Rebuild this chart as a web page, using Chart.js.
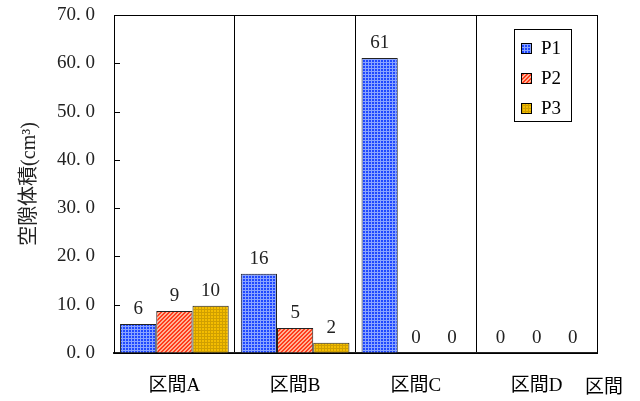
<!DOCTYPE html>
<html>
<head>
<meta charset="utf-8">
<script src="https://cdn.jsdelivr.net/npm/chart.js@4"></script>
<style>
html, body { margin: 0; background: #fff; }
#wrap { width: 640px; height: 401px; }
</style>
</head>
<body>
<div id="wrap"><canvas id="chart"></canvas></div>
<script>
// data
const categories = ['区間A', '区間B', '区間C', '区間D'];
const seriesNames = ['P1', 'P2', 'P3'];
const p1Values = [6.0, 16.4, 61.1, 0];
const p2Values = [8.7, 5.2, 0, 0];
const p3Values = [9.8, 2.1, 0, 0];
const yTicks = [0, 10, 20, 30, 40, 50, 60, 70];

const FONT = "'Liberation Serif', 'Noto Sans CJK JP', serif";

// small tiled fills like the hatched bars of the original
function makePattern(kind) {
    const c = document.createElement('canvas');
    const ctx = c.getContext('2d');
    if (kind === 'blue') {
        c.width = c.height = 3;
        ctx.fillStyle = '#8aa4ff';
        ctx.fillRect(0, 0, 3, 3);
        ctx.fillStyle = '#1f48ff';
        ctx.fillRect(0, 0, 2, 2);
    } else if (kind === 'red') {
        c.width = c.height = 4;
        for (let x = 0; x < 4; x++) {
            for (let y = 0; y < 4; y++) {
                ctx.fillStyle = (x + y) % 4 < 2 ? '#ff3c1c' : '#ffb495';
                ctx.fillRect(x, y, 1, 1);
            }
        }
    } else {
        c.width = c.height = 3;
        ctx.fillStyle = '#f4bd00';
        ctx.fillRect(0, 0, 3, 3);
        ctx.fillStyle = '#cf9f00';
        ctx.fillRect(0, 0, 3, 1);
        ctx.fillRect(0, 0, 1, 3);
    }
    return ctx.createPattern(c, 'repeat');
}

const fills = [makePattern('blue'), makePattern('red'), makePattern('yellow')];
const seriesValues = [p1Values, p2Values, p3Values];

const decorPlugin = {
    id: 'decor',
    afterDatasetsDraw(chart) {
        const ctx = chart.ctx;
        ctx.save();
        ctx.font = '19px ' + FONT;
        ctx.fillStyle = '#222';
        ctx.textAlign = 'center';
        ctx.textBaseline = 'middle';
        chart.data.datasets.forEach((ds, i) => {
            chart.getDatasetMeta(i).data.forEach((bar, j) => {
                ctx.fillText(String(Math.round(ds.data[j])), bar.x, bar.y - 15);
            });
        });
        ctx.restore();
    },
    afterDraw(chart) {
        const ctx = chart.ctx;
        const area = chart.chartArea;
        const y = chart.scales.y;
        ctx.save();
        // frame
        ctx.strokeStyle = '#000';
        ctx.lineWidth = 1;
        ctx.strokeRect(area.left + 0.5, area.top + 0.5, area.right - area.left, area.bottom - area.top);
        // inner tick marks on the value axis
        ctx.beginPath();
        yTicks.forEach(v => {
            const py = Math.round(y.getPixelForValue(v)) + 0.5;
            ctx.moveTo(area.left, py);
            ctx.lineTo(area.left + 6, py);
        });
        ctx.stroke();

        // legend box
        const lx = 514, ly = 29, lw = 57, lh = 92;
        ctx.fillStyle = '#fff';
        ctx.fillRect(lx, ly, lw, lh);
        ctx.strokeStyle = '#000';
        ctx.strokeRect(lx + 0.5, ly + 0.5, lw, lh);
        ctx.font = '19px ' + FONT;
        ctx.textBaseline = 'middle';
        ctx.textAlign = 'left';
        chart.data.datasets.forEach((ds, i) => {
            const cy = 48 + i * 30;
            ctx.fillStyle = ds.backgroundColor;
            ctx.fillRect(521, cy - 5, 11, 11);
            ctx.strokeStyle = '#000';
            ctx.strokeRect(521.5, cy - 4.5, 10, 10);
            ctx.fillStyle = '#000';
            ctx.fillText(ds.label, 541, cy + 1);
        });

        // category axis name, bottom right
        ctx.textAlign = 'center';
        ctx.fillText('区間', 604, 388);
        ctx.restore();
    }
};

new Chart(document.getElementById('chart'), {
    type: 'bar',
    data: {
        labels: categories,
        datasets: seriesNames.map((name, i) => ({
            label: name,
            data: seriesValues[i],
            backgroundColor: fills[i],
            borderColor: '#222',
            borderWidth: 1,
            categoryPercentage: 0.9,
            barPercentage: 1.0
        }))
    },
    options: {
        responsive: true,
        maintainAspectRatio: false,
        animation: false,
        layout: { padding: { left: 0, right: 43, top: 15, bottom: 0 } },
        plugins: {
            legend: { display: false },
            tooltip: { enabled: false }
        },
        scales: {
            x: {
                grid: { color: '#000', drawTicks: false, offset: true },
                border: { color: '#222', width: 2 },
                ticks: { color: '#000', padding: 22, font: { family: FONT, size: 19 } },
                afterFit(scale) { scale.height = 48; scale.paddingLeft = 0; scale.paddingRight = 0; }
            },
            y: {
                min: 0,
                max: 70,
                grid: { drawOnChartArea: false, drawTicks: false },
                border: { color: '#000', width: 1 },
                ticks: {
                    stepSize: 10,
                    padding: 19,
                    color: '#222',
                    font: { family: FONT, size: 19 },
                    callback: v => v.toFixed(1).replace('.', '. ')
                },
                title: {
                    display: true,
                    text: '空隙体積(cm³)',
                    color: '#222',
                    padding: { top: 18, bottom: 0 },
                    font: { family: FONT, size: 20 }
                },
                afterFit(scale) { scale.width = 114; scale.paddingTop = 0; scale.paddingBottom = 0; }
            }
        }
    },
    plugins: [decorPlugin]
});
</script>
</body>
</html>
